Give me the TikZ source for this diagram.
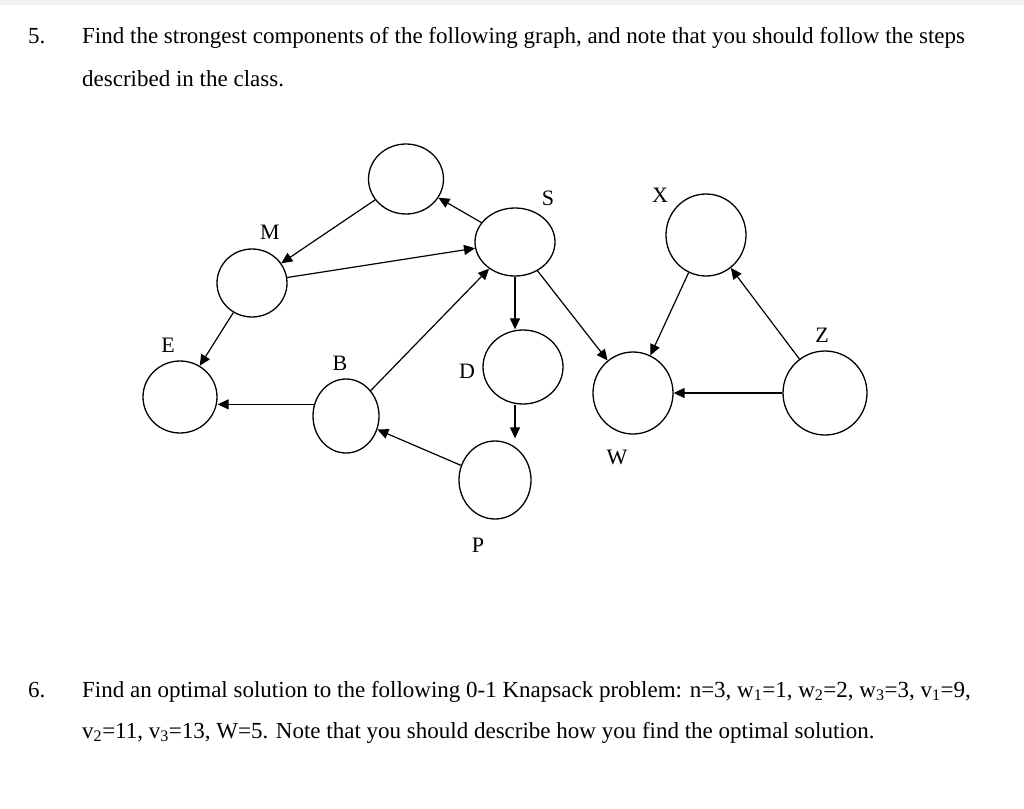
\documentclass[tikz,border=0pt]{standalone}
\usepackage{fontspec}
\setmainfont{Liberation Serif}
\usetikzlibrary{arrows.meta,shapes.geometric}
\begin{document}
\begin{tikzpicture}[x=1pt,y=-1pt,
  vtx/.style={draw,ellipse,line width=1.3pt,inner sep=0pt},
  lab/.style={font=\fontsize{22}{26}\selectfont,inner sep=0pt},
  txt/.style={font=\fontsize{23}{28}\selectfont,inner sep=0pt,anchor=base west},
  edge/.style={line width=1.2pt,-{Triangle[length=11pt,width=10pt]}}]
\useasboundingbox (0,0) rectangle (1024,808);
\fill[black!6] (0,0) rectangle (1024,5);
\node[txt] (n5) at (28,44) {5.};
\node[txt] (l1) at (82,44) {Find the strongest components of the following graph, and note that you should follow the steps};
\node[txt] (l2) at (82,86) {described in the class.};
\node[txt] (n6) at (28,697) {6.};
\node[txt] (l3) at (82,697) {Find an optimal solution to the following 0-1 Knapsack problem: n=3, w\textsubscript{1}=1, w\textsubscript{2}=2, w\textsubscript{3}=3, v\textsubscript{1}=9,};
\node[txt] (l4) at (82,738) {v\textsubscript{2}=11, v\textsubscript{3}=13, W=5. Note that you should describe how you find the optimal solution.};
\def\el(#1,#2,#3,#4,#5){\node[vtx,minimum width=#4pt,minimum height=#5pt] (#1) at (#2,#3) {};}
\el(T,406,179,75,70)
\el(S,515,242,80,68)
\el(M,252,283,70,68)
\el(E,180,397,74,72)
\el(B,346,416,66,74)
\el(D,523,367,80,74)
\el(P,495,480,72,78)
\el(X,706,235,80,82)
\el(W,633,393,80,82)
\el(Z,825,393,84,84)
\node[lab] (lS) at (548,198) {S};
\node[lab] (lM) at (270,232) {M};
\node[lab] (lE) at (168,345) {E};
\node[lab] (lB) at (340,363) {B};
\node[lab] (lD) at (467,371) {D};
\node[lab] (lP) at (478,545) {P};
\node[lab] (lX) at (660,195) {X};
\node[lab] (lW) at (617,457) {W};
\node[lab] (lZ) at (822,335) {Z};
\draw[edge] (S) -- (T);
\draw[edge] (T) -- (M);
\draw[edge] (M) -- (S);
\draw[edge] (M) -- (E);
\draw[edge] (B.160) -- (E.east|-B.160);
\draw[edge] (B) -- (S);
\draw[edge] (P) -- (B);
\draw[edge] (S.south) -- (S.south|-D.north);
\draw[edge] (S.south|-D.south) -- ([yshift=2pt]S.south|-P.north);
\draw[edge] (S) -- (W);
\draw[edge] (X) -- (W);
\draw[edge] (Z) -- (X);
\draw[edge] (Z) -- (W);
\end{tikzpicture}
\end{document}
